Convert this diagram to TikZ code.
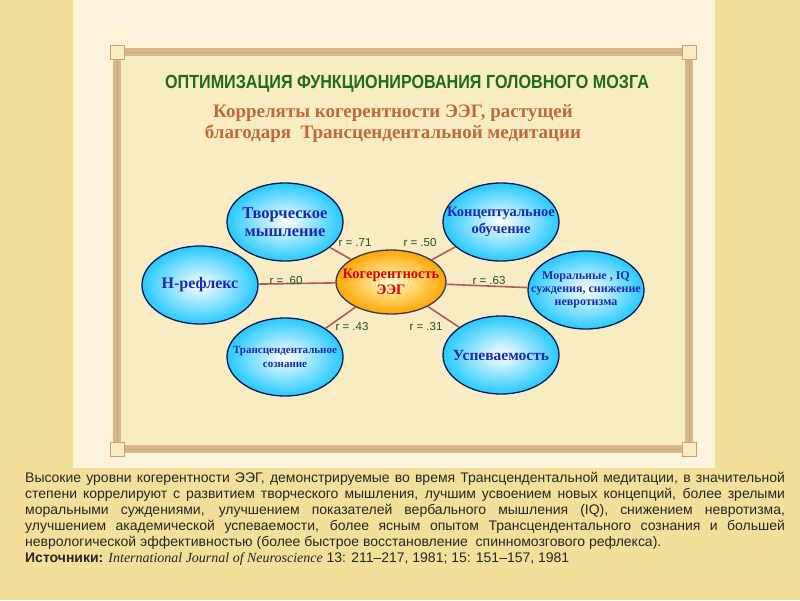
\documentclass[tikz,border=0pt]{standalone}
\usepackage{fontspec}
\setmainfont{Liberation Serif}
\setsansfont{Liberation Sans}
\usetikzlibrary{shapes.geometric}
\definecolor{pagebg}{HTML}{F2E09A}
\definecolor{panel}{HTML}{F8EDC2}
\definecolor{framec}{HTML}{D5B88C}
\definecolor{navy}{HTML}{0A1A5A}
\definecolor{txtblue}{HTML}{1A2AB0}
\definecolor{linec}{HTML}{B25A5A}
\definecolor{greent}{HTML}{1E6B1E}
\definecolor{brownt}{HTML}{C2683A}
\definecolor{rgreen}{HTML}{1F4F1F}
\newcommand{\fs}[1]{\fontsize{#1}{#1}\selectfont}
\begin{document}
\begin{tikzpicture}[x=1pt,y=-1pt,
  bub/.style={ellipse,draw=navy,line width=1.3pt,inner color=white,outer color=cyan!75!blue!85,
    minimum width=116pt,minimum height=78pt,inner sep=-20pt,align=center,text=txtblue},
  ctr/.style={ellipse,draw=navy!70!brown,line width=1.3pt,inner color=yellow!20,outer color=orange!70!yellow,
    minimum width=110pt,minimum height=64pt,inner sep=-20pt,align=center,text=red!85!black,font=\bfseries\fs{14.5}},
  conn/.style={draw=linec,line width=1.6pt},
  rl/.style={font=\sffamily\fs{11.5},text=rgreen}]
\useasboundingbox (0,0) rectangle (800,600);
\fill[pagebg] (0,0) rectangle (800,600);
\fill[panel!60!white] (73,0) rectangle (715,468);
\fill[framec] (113,48) rectangle (693,453);
\fill[panel] (121,56) rectangle (685,445);
\draw[framec!70!brown,line width=0.6pt] (117,52) rectangle (689,449);
\foreach \cx/\cy in {117/52,689/52,117/449,689/449}
  \filldraw[fill=panel,draw=framec!60!brown] (\cx-7,\cy-7) rectangle (\cx+7,\cy+7);
\node[font=\sffamily\bfseries\fs{19},text=greent,xscale=0.85] (t1) at (407,84) {ОПТИМИЗАЦИЯ ФУНКЦИОНИРОВАНИЯ ГОЛОВНОГО МОЗГА};
\node[font=\bfseries\fs{19},text=brownt,align=center] (t2) at (393,123) {Корреляты когерентности ЭЭГ, растущей\\[2pt]благодаря\ \ Трансцендентальной медитации};
\node[ctr] (c) at (391,282) {Когерентность\\[2pt]ЭЭГ};
\node[bub,font=\bfseries\fs{16.5}] (a) at (285,222) {Творческое\\[2pt]мышление};
\node[bub,font=\bfseries\fs{14.5}] (b) at (501,222) {Концептуальное\\[3pt]обучение};
\node[bub,font=\bfseries\fs{16}] (h) at (200,285) {Н-рефлекс};
\node[bub,font=\bfseries\fs{12}] (m) at (586,290) {Моральные , IQ\\[1pt]суждения, снижение\\[1pt]невротизма};
\node[bub,font=\bfseries\fs{11}] (tr) at (285,357) {Трансцендентальное\\[3pt]сознание};
\node[bub,font=\bfseries\fs{15.5}] (u) at (501,355) {Успеваемость};
\foreach \n in {a,b,h,m,tr,u} \draw[conn] (c) -- (\n);
\node[rl] (l1) at (355,243) {r = .71};
\node[rl] (l2) at (420,243) {r = .50};
\node[rl] (l3) at (286,281) {r = .60};
\node[rl] (l4) at (489,281) {r = .63};
\node[rl] (l5) at (352,327) {r = .43};
\node[rl] (l6) at (426,327) {r = .31};
\node[anchor=north west,text width=804pt,align=justify,font=\sffamily\fontsize{14.8}{17}\selectfont,text=black!85,inner sep=0pt,xscale=0.945,yscale=0.94] (body) at (25,472)
{Высокие уровни когерентности ЭЭГ, демонстрируемые во время Трансцендентальной медитации, в значительной степени коррелируют с развитием творческого мышления, лучшим усвоением новых концепций, более зрелыми моральными суждениями, улучшением показателей вербального мышления (IQ), снижением невротизма, улучшением академической успеваемости, более ясным опытом Трансцендентального сознания и большей неврологической эффективностью (более быстрое восстановление\ \ спинномозгового рефлекса).\\
{\bfseries Источники:} {\rmfamily\itshape International Journal of Neuroscience} 13: 211–217, 1981; 15: 151–157, 1981};
\end{tikzpicture}
\end{document}
